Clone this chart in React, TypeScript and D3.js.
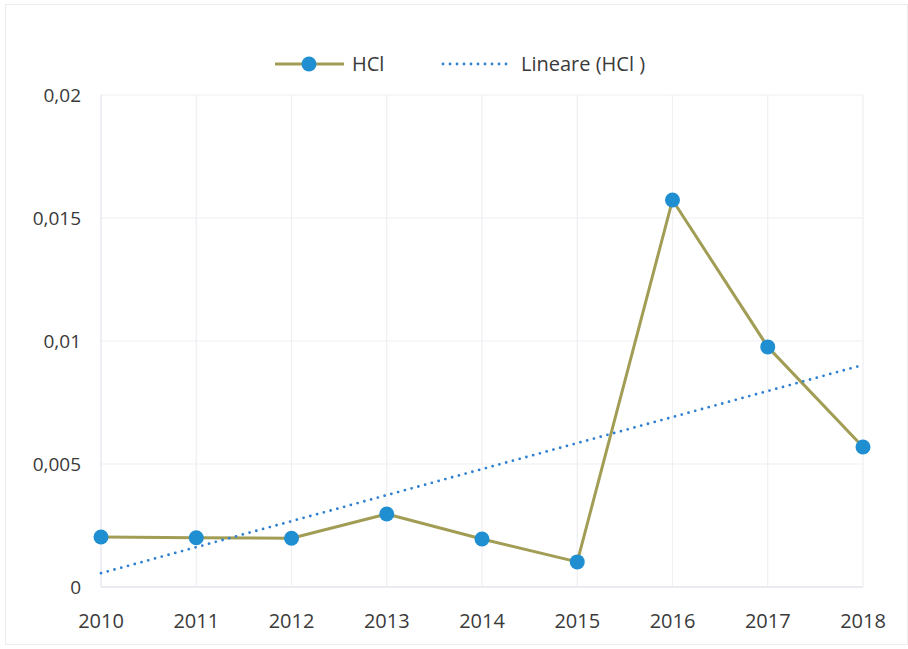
import React from "react";
import * as d3 from "d3";

const years = ["2010", "2011", "2012", "2013", "2014", "2015", "2016", "2017", "2018"];
const hclValues = [0.00203, 0.002, 0.00198, 0.00297, 0.00195, 0.00102, 0.01573, 0.00976, 0.00569];
const yTicks = [0, 0.005, 0.01, 0.015, 0.02];
const yTickLabels = ["0", "0,005", "0,01", "0,015", "0,02"];
const seriesName = "HCl";
const trendName = "Lineare (HCl )";

const W = 908;
const H = 649;
const margin = { left: 101, right: 45, top: 95, bottom: 62 };

export default function App() {
  const x = d3
    .scalePoint<string>()
    .domain(years)
    .range([margin.left, W - margin.right]);
  const y = d3
    .scaleLinear()
    .domain([0, 0.02])
    .range([H - margin.bottom, margin.top]);

  // linear regression trendline
  const n = hclValues.length;
  const xs = hclValues.map((_, i) => i);
  const mx = d3.mean(xs) as number;
  const my = d3.mean(hclValues) as number;
  const slope =
    d3.sum(xs.map((xi, i) => (xi - mx) * (hclValues[i] - my))) /
    d3.sum(xs.map((xi) => (xi - mx) * (xi - mx)));
  const intercept = my - slope * mx;
  const trend = [
    { yr: years[0], v: intercept },
    { yr: years[n - 1], v: intercept + slope * (n - 1) },
  ];

  const line = d3
    .line<number>()
    .x((_, i) => x(years[i]) as number)
    .y((d) => y(d));
  const trendLine = d3
    .line<{ yr: string; v: number }>()
    .x((d) => x(d.yr) as number)
    .y((d) => y(d.v));

  const font = "'Open Sans', 'Noto Sans', sans-serif";
  const lineColor = "#a19d55";
  const markerColor = "#1f8fd2";
  const trendColor = "#2d7fd0";
  const textColor = "#3a3a3a";

  return (
    <svg
      width={W}
      height={H}
      style={{ position: "absolute", left: 0, top: 0, background: "#fff" }}
    >
      <rect x={0} y={0} width={W} height={H} fill="#fff" />
      <rect x={5.5} y={4.5} width={W - 6} height={H - 9} fill="none" stroke="#ececec" strokeWidth={1} />
      {/* gridlines */}
      {yTicks.map((t) => (
        <line
          key={"h" + t}
          x1={margin.left}
          x2={W - margin.right}
          y1={y(t)}
          y2={y(t)}
          stroke={t === 0 ? "#d6d6e2" : "#efeff4"}
          strokeWidth={1.2}
        />
      ))}
      {years.map((yr, i) => (
        <line
          key={"v" + yr}
          x1={x(yr)}
          x2={x(yr)}
          y1={y(0.02)}
          y2={y(0)}
          stroke={i === 0 ? "#e2e2ec" : "#efeff4"}
          strokeWidth={1.2}
        />
      ))}
      {/* y labels */}
      {yTicks.map((t, i) => (
        <text
          key={"yl" + t}
          x={81}
          y={y(t)}
          dy="0.35em"
          textAnchor="end"
          fontFamily={font}
          fontSize={19}
          fill={textColor}
        >
          {yTickLabels[i]}
        </text>
      ))}
      {/* x labels */}
      {years.map((yr) => (
        <text
          key={"xl" + yr}
          x={x(yr)}
          y={628}
          textAnchor="middle"
          fontFamily={font}
          fontSize={20}
          fill={textColor}
        >
          {yr}
        </text>
      ))}
      {/* series line */}
      <path d={line(hclValues) as string} fill="none" stroke={lineColor} strokeWidth={3} strokeLinejoin="round" />
      {/* trendline */}
      <path
        d={trendLine(trend) as string}
        fill="none"
        stroke={trendColor}
        strokeWidth={2.8}
        strokeDasharray="0,7"
        strokeLinecap="round"
      />
      {/* markers */}
      {hclValues.map((v, i) => (
        <circle key={"m" + i} cx={x(years[i])} cy={y(v)} r={7.5} fill={markerColor} />
      ))}
      {/* legend */}
      <g>
        <line x1={275} x2={344} y1={64} y2={64} stroke={lineColor} strokeWidth={3} />
        <circle cx={309} cy={64} r={7.5} fill={markerColor} />
        <text x={352} y={64} dy="0.35em" fontFamily={font} fontSize={20} fill={textColor}>
          {seriesName}
        </text>
        <line
          x1={443}
          x2={510}
          y1={64}
          y2={64}
          stroke={trendColor}
          strokeWidth={2.8}
          strokeDasharray="0,7"
          strokeLinecap="round"
        />
        <text x={521} y={64} dy="0.35em" fontFamily={font} fontSize={20} fill={textColor}>
          {trendName}
        </text>
      </g>
    </svg>
  );
}
